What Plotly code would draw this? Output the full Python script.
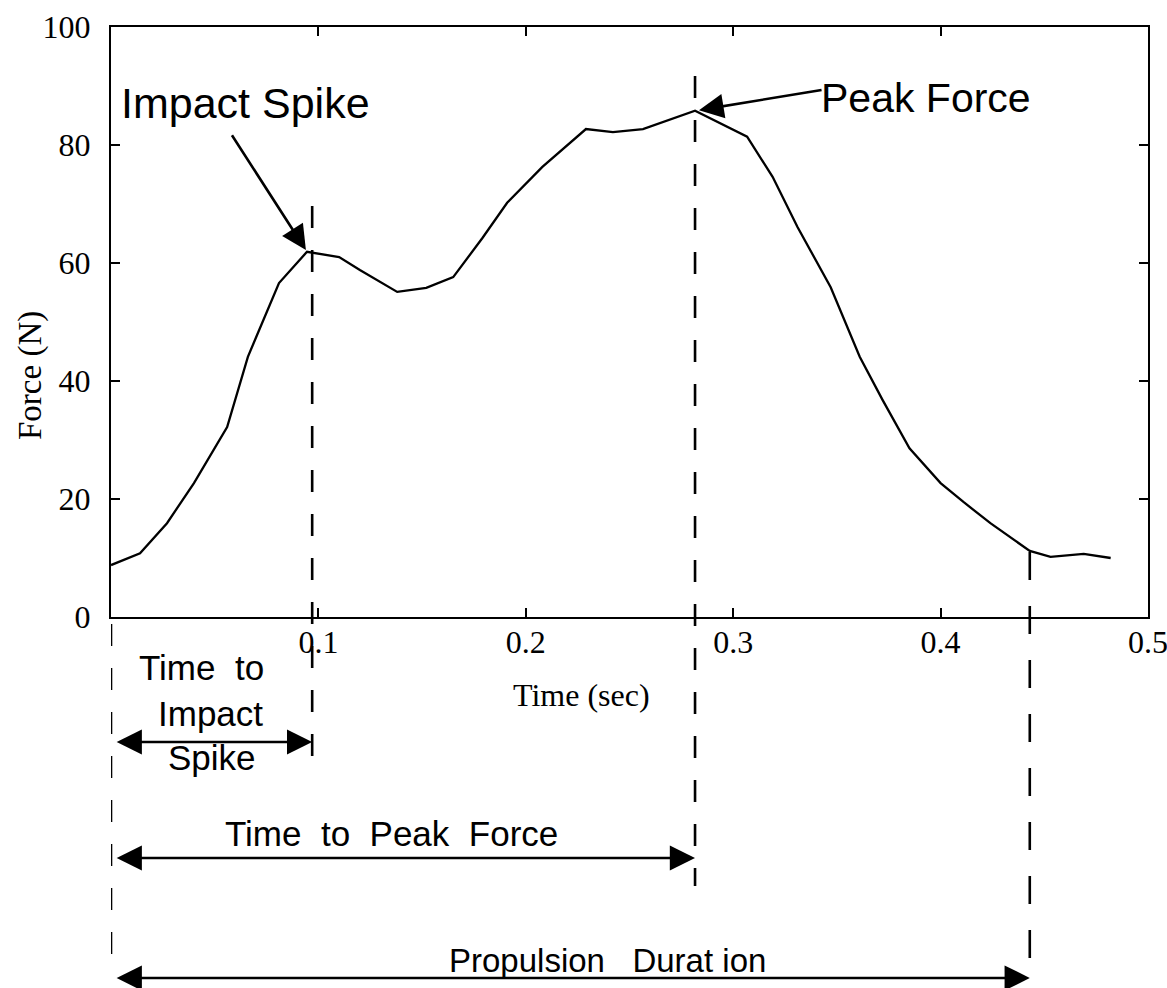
import plotly.graph_objects as go

# Ground reaction force during a single propulsive stroke
time_s = [0.000, 0.014, 0.027, 0.040, 0.056, 0.066, 0.081, 0.0945, 0.110, 0.120,
          0.138, 0.152, 0.165, 0.179, 0.191, 0.208, 0.229, 0.242, 0.2565, 0.2816,
          0.3067, 0.319, 0.331, 0.347, 0.361, 0.372, 0.385, 0.400, 0.411, 0.424,
          0.443, 0.453, 0.469, 0.482]
force_n = [8.8, 10.8, 15.9, 22.7, 32.2, 44.1, 56.6, 61.9, 61.0, 58.8,
           55.1, 55.8, 57.6, 64.2, 70.2, 76.3, 82.7, 82.2, 82.7, 85.8,
           81.4, 74.6, 66.1, 55.9, 44.1, 36.8, 28.6, 22.7, 19.5, 15.9,
           11.2, 10.2, 10.7, 10.0]

# Event times marked on the trace
spike_time = 0.0945
spike_force = 61.9
spike_marker_time = 0.097
peak_time = 0.2816
peak_force = 85.8
end_time = 0.443
end_force = 11.2

x_ticks = [0.1, 0.2, 0.3, 0.4, 0.5]
x_tick_text = ["0.1", "0.2", "0.3", "0.4", "0.5"]
y_ticks = [0, 20, 40, 60, 80, 100]
y_tick_text = ["0", "20", "40", "60", "80", "100"]

W, H = 1167, 988
L, R, T, B = 111, 19, 27, 371
PW, PH = W - L - R, H - T - B


def py(pix):
    """Vertical page pixel -> paper fraction."""
    return (H - B - pix) / PH


def px(pix):
    """Horizontal page pixel -> paper fraction."""
    return (pix - L) / PW


SERIF = "Liberation Serif, Times New Roman, serif"
SANS = "Liberation Sans, Arial, sans-serif"
NB = "\u00a0"

fig = go.Figure()
fig.add_trace(go.Scatter(x=time_s, y=force_n, mode="lines",
                         line=dict(color="black", width=2.3),
                         hoverinfo="skip", showlegend=False))

dash = "22px,22px"
shapes = [
    # impact spike marker
    dict(type="line", xref="x", yref="paper", x0=spike_marker_time, x1=spike_marker_time,
         y0=py(206), y1=py(758), line=dict(color="black", width=2.6, dash=dash)),
    # peak force marker
    dict(type="line", xref="x", yref="paper", x0=peak_time, x1=peak_time,
         y0=py(76), y1=py(886), line=dict(color="black", width=2.6, dash=dash)),
    # end of propulsion marker
    dict(type="line", xref="x", yref="paper", x0=end_time, x1=end_time,
         y0=py(552), y1=py(980), line=dict(color="black", width=2.6, dash="28px,26px")),
    # start of stroke
    dict(type="line", xref="x", yref="paper", x0=0, x1=0,
         y0=py(624), y1=py(966), line=dict(color="black", width=2.6, dash=dash)),
]

annotations = []

# duration arrows between event times
for t_end, ypix in [(spike_marker_time, 742), (peak_time, 858), (end_time, 978)]:
    annotations.append(dict(
        xref="x", yref="paper", x=t_end, y=py(ypix),
        axref="x", ayref="pixel", ax=0.002, ay=0,
        text="", showarrow=True, arrowside="end+start",
        arrowhead=2, startarrowhead=2, arrowsize=2.1, startarrowsize=2.1,
        arrowwidth=2.4, arrowcolor="black", standoff=0, startstandoff=0))

# callouts
annotations.append(dict(xref="x", yref="y", x=spike_time, y=spike_force,
                        axref="pixel", ayref="pixel", ax=-76, ay=-118,
                        text="", showarrow=True, arrowhead=2, arrowsize=1.9,
                        arrowwidth=2.6, arrowcolor="black", standoff=2))
annotations.append(dict(xref="x", yref="y", x=peak_time, y=peak_force,
                        axref="pixel", ayref="pixel", ax=128, ay=-21,
                        text="", showarrow=True, arrowhead=2, arrowsize=1.9,
                        arrowwidth=2.6, arrowcolor="black", standoff=4))

labels = [
    ("Impact Spike", 245, 103, 43, SANS),
    ("Peak Force", 926, 98, 41, SANS),
    ("Time" + NB + NB + "to", 201, 667, 35, SANS),
    ("Impact", 210, 713, 35, SANS),
    ("Spike", 212, 758, 35, SANS),
    ("Time" + NB + NB + "to" + NB + NB + "Peak" + NB + NB + "Force", 391, 833, 35, SANS),
    ("Propulsion" + NB + NB + NB + "Durat" + NB + "ion", 607, 960, 33, SANS),
    ("Time (sec)", 581, 695, 32, SERIF),
]
for txt, xpix, ypix, size, fam in labels:
    annotations.append(dict(xref="paper", yref="paper", x=px(xpix), y=py(ypix),
                            text=txt, showarrow=False, xanchor="center", yanchor="middle",
                            font=dict(family=fam, size=size, color="black")))

annotations.append(dict(xref="paper", yref="paper", x=px(30), y=py(376),
                        text="Force (N)", showarrow=False, textangle=-90,
                        xanchor="center", yanchor="middle",
                        font=dict(family=SERIF, size=33, color="black")))

axis_common = dict(showline=True, linecolor="black", linewidth=2, mirror="ticks",
                   ticks="inside", ticklen=9, tickwidth=1.6, tickcolor="black",
                   showgrid=False, zeroline=False, automargin=False,
                   ticklabeloverflow="allow",
                   tickfont=dict(family=SERIF, size=32, color="black"))

fig.update_layout(
    width=W, height=H, autosize=False,
    margin=dict(l=L, r=R, t=T, b=B, pad=0, autoexpand=False),
    paper_bgcolor="white", plot_bgcolor="white",
    showlegend=False,
    xaxis=dict(range=[0, 0.5], tickvals=x_ticks, ticktext=x_tick_text,
               ticklabelstandoff=-4, **axis_common),
    yaxis=dict(range=[0, 100], tickvals=y_ticks, ticktext=y_tick_text,
               ticklabelstandoff=12, **axis_common),
    shapes=shapes,
    annotations=annotations,
)

fig.write_html("out.html")
